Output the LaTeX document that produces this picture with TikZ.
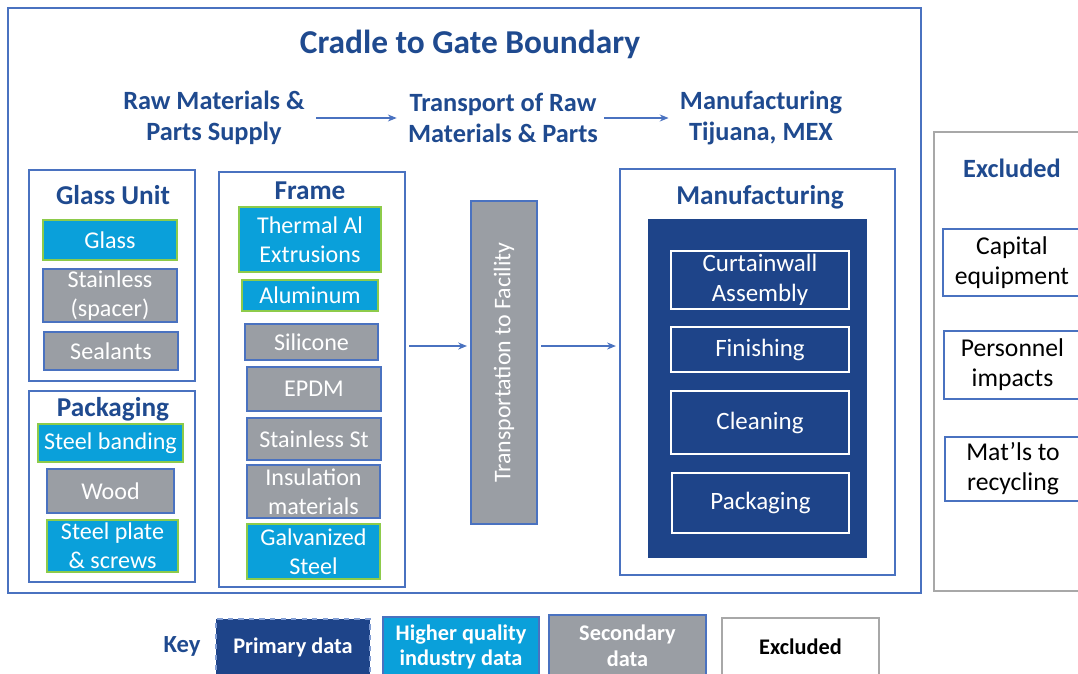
\documentclass[tikz,border=0pt]{standalone}
\usepackage{fontspec}
\setmainfont{Carlito}
\usepackage{tikz}
\usetikzlibrary{arrows.meta, positioning, fit}

\definecolor{navy}{HTML}{1E4489}
\definecolor{titleblue}{HTML}{1F4A8F}
\definecolor{skyblue}{HTML}{0AA0DA}
\definecolor{slate}{HTML}{9A9EA4}
\definecolor{edgeblue}{HTML}{4A72C0}
\definecolor{leafgreen}{HTML}{8DCB4A}
\definecolor{exgray}{HTML}{A8A8A8}

\begin{document}
\begin{tikzpicture}[
    x=0.02cm, y=-0.02cm,
    dims/.style 2 args={minimum width=#1*0.02cm, minimum height=#2*0.02cm},
    group/.style={draw=edgeblue, line width=0.7pt, inner sep=0pt},
    heading/.style={text=titleblue, font=\bfseries\fontsize{15.5}{18}\selectfont},
    stage/.style={text=titleblue, align=center, font=\bfseries\fontsize{15}{18}\selectfont},
    industry/.style={fill=skyblue, draw=leafgreen, line width=0.6pt, inner sep=0pt, text=white, align=center, font=\fontsize{13.7}{16.4}\selectfont},
    secondary/.style={industry, fill=slate, draw=edgeblue},
    process/.style={draw=white, line width=0.6pt, inner sep=0pt, text=white, align=center, font=\fontsize{14.2}{17}\selectfont},
    excl/.style={draw=edgeblue, line width=0.6pt, inner sep=0pt, text=black, align=center, font=\fontsize{14.6}{17}\selectfont},
    keybox/.style={line width=0.6pt, inner sep=0pt, text=white, align=center, font=\bfseries\fontsize{12.7}{14.7}\selectfont},
    arrow/.style={->, >={Stealth[length=5pt,width=4pt]}, draw=edgeblue, line width=0.6pt}
]
\useasboundingbox (0,0) rectangle (1078,673);
\fill[white] (0,0) rectangle (1078,673);

% 境界
\node (boundary) [group, fit={(8,8) (921,593)}] {};
\node (title) [text=titleblue, font=\bfseries\fontsize{19}{22}\selectfont] at (470,44) {Cradle to Gate Boundary};

\node (raw) [stage] at (214,118) {Raw Materials \&\\Parts Supply};
\node (trans) [stage] at (503,118) {Transport of Raw\\Materials \& Parts};
\node (site) [stage] at (761,118) {Manufacturing\\Tijuana, MEX};

\draw [arrow, shorten <=3pt, shorten >=3pt] (raw) -- (trans);
\draw [arrow, shorten >=3pt] (trans) -- (site);

% ガラスユニット
\node (glassunit) [group, fit={(29,170) (195,381)}] {};
\node [heading] at (113,195) {Glass Unit};
\node (glass) [industry, dims={134}{40}] at (110,240) {Glass};
\node (spacer) [secondary, dims={134}{53}] at (110,295.5) {Stainless\\(spacer)};
\node (sealants) [secondary, dims={134}{38}] at (111,351) {Sealants};

% 梱包
\node (packaging) [group, fit={(29,391) (195,582)}] {};
\node [heading] at (113,409) {Packaging};
\node (banding) [industry, dims={145}{38}] at (110.5,443) {Steel banding};
\node (wood) [secondary, dims={127}{44}] at (110.5,491) {Wood};
\node (plate) [industry, dims={131}{52}] at (112.5,546) {Steel plate\\\& screws};

% フレーム
\node (frame) [group, fit={(219,172) (405,587)}] {};
\node [heading] at (310,191) {Frame};
\node (thermal) [industry, dims={142}{65}] at (310,239.5) {Thermal Al\\Extrusions};
\node (alu) [industry, dims={136}{31}] at (310,295.5) {Aluminum};
\node (silicone) [secondary, dims={133}{36}] at (311.5,342) {Silicone};
\node (epdm) [secondary, dims={134}{44}] at (314,389) {EPDM};
\node (stainless) [secondary, dims={134}{42}] at (314,439) {Stainless St};
\node (insulation) [secondary, dims={133}{53}] at (313.5,491.5) {Insulation\\materials};
\node (galv) [industry, dims={133}{55}] at (313.5,551.5) {Galvanized\\Steel};

% 輸送
\node (tport) [secondary, dims={66}{323}] at (504,362.5) {};
\node [rotate=90, text=white, font=\fontsize{13.6}{16}\selectfont] at (tport.center) {Transportation to Facility};

% 製造
\node (mfg) [group, fit={(620,169) (895,575)}] {};
\node [heading] at (760,197) {Manufacturing};
\node (mfgcore) [fill=navy, inner sep=0pt, fit={(648,219) (867,558)}] {};
\node (assembly) [process, dims={178}{58}] at (760,280) {Curtainwall\\Assembly};
\node (finishing) [process, dims={178}{45}] at (760,349.5) {Finishing};
\node (cleaning) [process, dims={178}{63}] at (760,422.5) {Cleaning};
\node (mfgpack) [process, dims={177}{60}] at (760.5,503) {Packaging};

% 矢印
\coordinate (flow) at (440,346);
\draw [arrow, shorten <=2pt, shorten >=2pt] (frame.east |- flow) -- (tport.west |- flow);
\draw [arrow, shorten <=2pt, shorten >=2pt] (tport.east |- flow) -- (mfg.west |- flow);

% 対象外
\node (excluded) [group, draw=exgray, fit={(934,132) (1090,591)}] {};
\node [heading, font=\bfseries\fontsize{15}{18}\selectfont] at (1012,168) {Excluded};
\node (capital) [excl, dims={138}{67}] at (1012,262.5) {Capital\\equipment};
\node (personnel) [excl, dims={137}{68}] at (1012.5,365) {Personnel\\impacts};
\node (recycling) [excl, dims={136}{64}] at (1013,469) {Mat’ls to\\recycling};

% 凡例
\node (key) [text=titleblue, font=\bfseries\fontsize{14}{16}\selectfont] at (182,646) {Key};
\node (keyprimary) [keybox, fill=navy, draw=edgeblue!70, dashed, dims={154}{57}] at (293,647.5) {Primary data};
\node (keyindustry) [keybox, fill=skyblue, draw=edgeblue, dims={156}{60}] at (461,647) {Higher quality\\industry data};
\node (keysecondary) [keybox, fill=slate, draw=edgeblue, dims={157}{62}] at (627.5,646) {Secondary\\data};
\node (keyexcluded) [keybox, text=black, draw=exgray, dims={157}{58}] at (800.5,647) {Excluded};

\end{tikzpicture}
\end{document}
